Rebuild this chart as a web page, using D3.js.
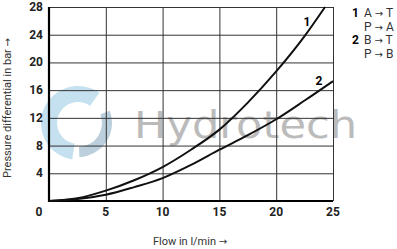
<!DOCTYPE html>
<html>
<head>
<meta charset="utf-8">
<script src="https://cdn.jsdelivr.net/npm/d3@7"></script>
<style>
  body { margin: 0; background: #fff; }
  svg text { font-family: "Roboto", "Liberation Sans", sans-serif; }
  .arr { font-family: "DejaVu Sans", sans-serif; font-size: 10px; }
</style>
</head>
<body>
<div id="chart"></div>
<script>
// ---- data ----
const xTicks = [0, 5, 10, 15, 20, 25];
const yTicks = [4, 8, 12, 16, 20, 24, 28];
const flow1 = [0, 2.5, 5, 7.5, 10, 12.5, 15, 17.5, 20, 22.5, 24.3];
const dp1   = [0, 0.4, 1.5, 3.0, 4.9, 7.4, 10.3, 14.2, 18.7, 23.8, 28];
const flow2 = [0, 2.5, 5, 7.5, 10, 12.5, 15, 17.5, 20, 22.5, 25];
const dp2   = [0, 0.3, 0.9, 2.0, 3.3, 5.2, 7.4, 9.5, 11.8, 14.5, 17.3];
const legendRows = [["1", "A", "T"], ["", "P", "A"], ["2", "B", "T"], ["", "P", "B"]];

const W = 397, H = 249;
const m = {top: 7, left: 49, right: 64, bottom: 48};

const svg = d3.select("#chart").append("svg")
  .attr("width", W).attr("height", H);

const x = d3.scaleLinear().domain([0, 25]).range([m.left, W - m.right]);
const y = d3.scaleLinear().domain([0, 28]).range([H - m.bottom, m.top]);

// watermark
const wm = svg.append("g").attr("opacity", 0.6);
const arc = d3.arc();
wm.append("path")
  .attr("transform", "translate(78,123)")
  .attr("d", arc({innerRadius: 21, outerRadius: 37, startAngle: 3.3, endAngle: 6.9}))
  .attr("fill", "#9fcde6");
wm.append("path")
  .attr("transform", "translate(78,123)")
  .attr("d", arc({innerRadius: 24, outerRadius: 34, startAngle: 1.2, endAngle: 3.1}))
  .attr("fill", "#8fb0c6");
wm.append("text")
  .attr("x", 134).attr("y", 138)
  .attr("textLength", 223)
  .attr("lengthAdjust", "spacingAndGlyphs")
  .style("font-family", "'DejaVu Sans', sans-serif")
  .style("font-size", "37px")
  .attr("fill", "#8f8f8f")
  .text("Hydrotech");

// grid
svg.append("g")
  .attr("transform", `translate(0,${H - m.bottom})`)
  .call(d3.axisBottom(x).tickValues(xTicks.slice(1)).tickSize(-(H - m.bottom - m.top)).tickFormat(""))
  .call(g => g.select(".domain").remove())
  .selectAll("line").attr("stroke", "#333").attr("stroke-width", 1);

svg.append("g")
  .attr("transform", `translate(${m.left},0)`)
  .call(d3.axisLeft(y).tickValues(yTicks).tickSize(-(W - m.left - m.right)).tickFormat(""))
  .call(g => g.select(".domain").remove())
  .selectAll("line").attr("stroke", "#333").attr("stroke-width", 1);

// main axes
svg.append("line")
  .attr("x1", x(0)).attr("x2", x(25)).attr("y1", y(0)).attr("y2", y(0))
  .attr("stroke", "#000").attr("stroke-width", 2.2);
svg.append("line")
  .attr("x1", x(0)).attr("x2", x(0)).attr("y1", y(0) + 1).attr("y2", y(28))
  .attr("stroke", "#000").attr("stroke-width", 2.2);

// tick labels
svg.append("g").selectAll("text")
  .data(xTicks).join("text")
  .attr("x", d => d === 0 ? x(0) - 10 : x(d))
  .attr("y", 216)
  .attr("text-anchor", "middle")
  .style("font-size", "12px").style("font-weight", "bold")
  .attr("fill", "#222")
  .text(d => d);

svg.append("g").selectAll("text")
  .data(yTicks).join("text")
  .attr("x", 43)
  .attr("y", d => y(d) + 4)
  .attr("text-anchor", "end")
  .style("font-size", "12px").style("font-weight", "bold")
  .attr("fill", "#222")
  .text(d => d);

// axis titles
const xt = svg.append("text")
  .attr("x", 190).attr("y", 245)
  .attr("text-anchor", "middle")
  .style("font-size", "11px")
  .attr("fill", "#333")
  .text("Flow in l/min ");
xt.append("tspan").attr("class", "arr").text("\u2192");

const yt = svg.append("text")
  .attr("transform", "translate(11,108) rotate(-90)")
  .attr("text-anchor", "middle")
  .style("font-size", "11px")
  .attr("fill", "#333")
  .text("Pressure differential in bar ");
yt.append("tspan").attr("class", "arr").text("\u2192");

// curves
const line = d3.line().x(d => x(d[0])).y(d => y(d[1])).curve(d3.curveMonotoneX);
const curves = [d3.zip(flow1, dp1), d3.zip(flow2, dp2)];
svg.append("g").selectAll("path")
  .data(curves).join("path")
  .attr("d", line)
  .attr("fill", "none")
  .attr("stroke", "#111")
  .attr("stroke-width", 2);

// curve labels
svg.append("text").attr("x", 307).attr("y", 26)
  .attr("text-anchor", "middle")
  .style("font-size", "12px").style("font-weight", "bold").text("1");
svg.append("text").attr("x", 319).attr("y", 85)
  .attr("text-anchor", "middle")
  .style("font-size", "12px").style("font-weight", "bold").text("2");

// legend
const lg = svg.append("g").selectAll("g")
  .data(legendRows).join("g")
  .attr("transform", (d, i) => `translate(0,${17 + i * 13.7})`);
lg.append("text").attr("x", 352).attr("y", 0)
  .style("font-size", "12px").style("font-weight", "bold").text(d => d[0]);
const lt = lg.append("text").attr("x", 364).attr("y", 0)
  .style("font-size", "12px").attr("fill", "#333");
lt.append("tspan").text(d => d[1] + " ");
lt.append("tspan").attr("class", "arr").text("\u2192");
lt.append("tspan").text(d => " " + d[2]);
</script>
</body>
</html>
